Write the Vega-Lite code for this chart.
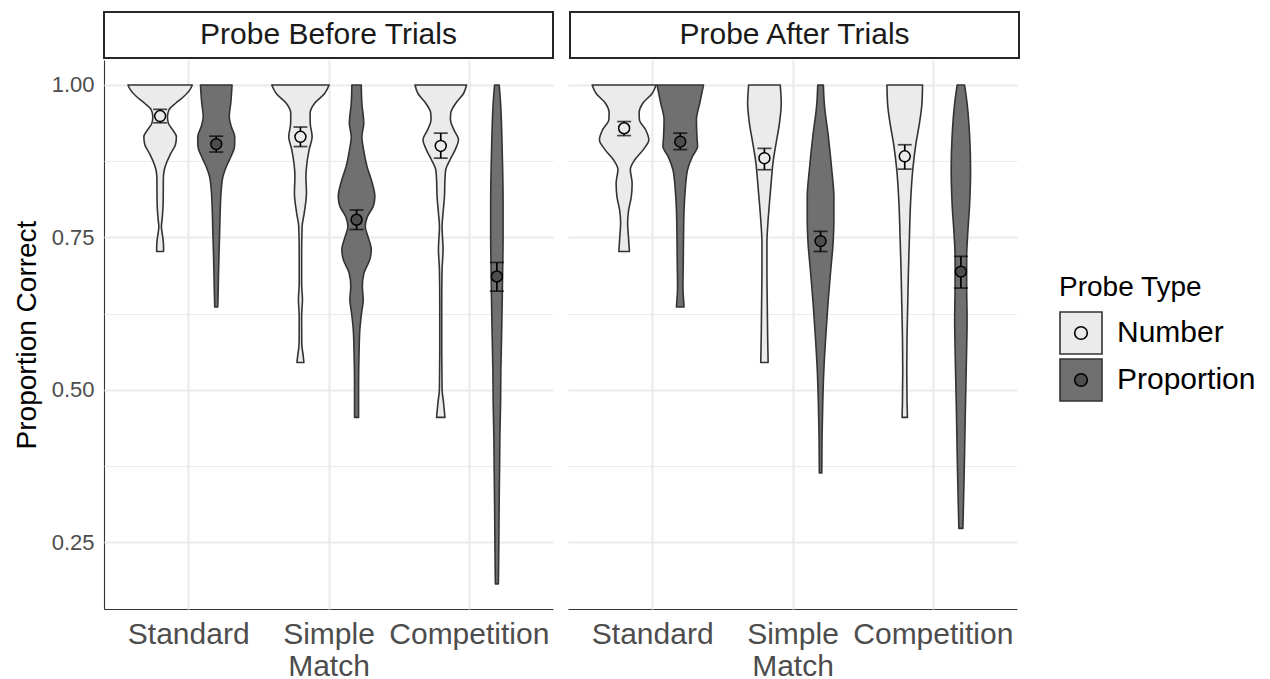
{
  "$schema": "https://vega.github.io/schema/vega-lite/v6.json",
  "padding": {"left": 13, "top": 11, "right": 5, "bottom": 0},
  "spacing": 1,
  "config": {
    "font": "Liberation Sans",
    "view": {"stroke": null}
  },
  "datasets": {
    "strips": [
      {"panel": "Probe Before Trials"},
      {"panel": "Probe After Trials"}
    ],
    "main": [
      {"panel":"Probe Before Trials","condition":"Standard","probe":"Number","value":1.0,"density":1.006},
      {"panel":"Probe Before Trials","condition":"Standard","probe":"Number","value":0.992,"density":0.928},
      {"panel":"Probe Before Trials","condition":"Standard","probe":"Number","value":0.981,"density":0.741},
      {"panel":"Probe Before Trials","condition":"Standard","probe":"Number","value":0.97,"density":0.484},
      {"panel":"Probe Before Trials","condition":"Standard","probe":"Number","value":0.959,"density":0.275},
      {"panel":"Probe Before Trials","condition":"Standard","probe":"Number","value":0.948,"density":0.228},
      {"panel":"Probe Before Trials","condition":"Standard","probe":"Number","value":0.937,"density":0.259},
      {"panel":"Probe Before Trials","condition":"Standard","probe":"Number","value":0.926,"density":0.397},
      {"panel":"Probe Before Trials","condition":"Standard","probe":"Number","value":0.915,"density":0.509},
      {"panel":"Probe Before Trials","condition":"Standard","probe":"Number","value":0.902,"density":0.478},
      {"panel":"Probe Before Trials","condition":"Standard","probe":"Number","value":0.888,"density":0.334},
      {"panel":"Probe Before Trials","condition":"Standard","probe":"Number","value":0.872,"density":0.197},
      {"panel":"Probe Before Trials","condition":"Standard","probe":"Number","value":0.861,"density":0.131},
      {"panel":"Probe Before Trials","condition":"Standard","probe":"Number","value":0.85,"density":0.103},
      {"panel":"Probe Before Trials","condition":"Standard","probe":"Number","value":0.806,"density":0.094},
      {"panel":"Probe Before Trials","condition":"Standard","probe":"Number","value":0.78,"density":0.063},
      {"panel":"Probe Before Trials","condition":"Standard","probe":"Number","value":0.768,"density":0.04},
      {"panel":"Probe Before Trials","condition":"Standard","probe":"Number","value":0.752,"density":0.078},
      {"panel":"Probe Before Trials","condition":"Standard","probe":"Number","value":0.74,"density":0.103},
      {"panel":"Probe Before Trials","condition":"Standard","probe":"Number","value":0.727,"density":0.109},

      {"panel":"Probe Before Trials","condition":"Standard","probe":"Proportion","value":1.0,"density":0.494},
      {"panel":"Probe Before Trials","condition":"Standard","probe":"Proportion","value":0.97,"density":0.453},
      {"panel":"Probe Before Trials","condition":"Standard","probe":"Proportion","value":0.948,"density":0.406},
      {"panel":"Probe Before Trials","condition":"Standard","probe":"Proportion","value":0.932,"density":0.469},
      {"panel":"Probe Before Trials","condition":"Standard","probe":"Proportion","value":0.915,"density":0.578},
      {"panel":"Probe Before Trials","condition":"Standard","probe":"Proportion","value":0.899,"density":0.572},
      {"panel":"Probe Before Trials","condition":"Standard","probe":"Proportion","value":0.883,"density":0.463},
      {"panel":"Probe Before Trials","condition":"Standard","probe":"Proportion","value":0.866,"density":0.313},
      {"panel":"Probe Before Trials","condition":"Standard","probe":"Proportion","value":0.85,"density":0.209},
      {"panel":"Probe Before Trials","condition":"Standard","probe":"Proportion","value":0.828,"density":0.156},
      {"panel":"Probe Before Trials","condition":"Standard","probe":"Proportion","value":0.795,"density":0.125},
      {"panel":"Probe Before Trials","condition":"Standard","probe":"Proportion","value":0.752,"density":0.103},
      {"panel":"Probe Before Trials","condition":"Standard","probe":"Proportion","value":0.719,"density":0.084},
      {"panel":"Probe Before Trials","condition":"Standard","probe":"Proportion","value":0.686,"density":0.069},
      {"panel":"Probe Before Trials","condition":"Standard","probe":"Proportion","value":0.653,"density":0.056},
      {"panel":"Probe Before Trials","condition":"Standard","probe":"Proportion","value":0.636,"density":0.047},

      {"panel":"Probe Before Trials","condition":"Simple Match","probe":"Number","value":1.0,"density":0.897},
      {"panel":"Probe Before Trials","condition":"Simple Match","probe":"Number","value":0.986,"density":0.756},
      {"panel":"Probe Before Trials","condition":"Simple Match","probe":"Number","value":0.97,"density":0.444},
      {"panel":"Probe Before Trials","condition":"Simple Match","probe":"Number","value":0.954,"density":0.303},
      {"panel":"Probe Before Trials","condition":"Simple Match","probe":"Number","value":0.937,"density":0.306},
      {"panel":"Probe Before Trials","condition":"Simple Match","probe":"Number","value":0.915,"density":0.366},
      {"panel":"Probe Before Trials","condition":"Simple Match","probe":"Number","value":0.894,"density":0.272},
      {"panel":"Probe Before Trials","condition":"Simple Match","probe":"Number","value":0.872,"density":0.203},
      {"panel":"Probe Before Trials","condition":"Simple Match","probe":"Number","value":0.85,"density":0.172},
      {"panel":"Probe Before Trials","condition":"Simple Match","probe":"Number","value":0.823,"density":0.188},
      {"panel":"Probe Before Trials","condition":"Simple Match","probe":"Number","value":0.79,"density":0.119},
      {"panel":"Probe Before Trials","condition":"Simple Match","probe":"Number","value":0.768,"density":0.053},
      {"panel":"Probe Before Trials","condition":"Simple Match","probe":"Number","value":0.724,"density":0.038},
      {"panel":"Probe Before Trials","condition":"Simple Match","probe":"Number","value":0.675,"density":0.038},
      {"panel":"Probe Before Trials","condition":"Simple Match","probe":"Number","value":0.648,"density":0.063},
      {"panel":"Probe Before Trials","condition":"Simple Match","probe":"Number","value":0.621,"density":0.038},
      {"panel":"Probe Before Trials","condition":"Simple Match","probe":"Number","value":0.577,"density":0.041},
      {"panel":"Probe Before Trials","condition":"Simple Match","probe":"Number","value":0.555,"density":0.088},
      {"panel":"Probe Before Trials","condition":"Simple Match","probe":"Number","value":0.545,"density":0.109},

      {"panel":"Probe Before Trials","condition":"Simple Match","probe":"Proportion","value":1.0,"density":0.147},
      {"panel":"Probe Before Trials","condition":"Simple Match","probe":"Proportion","value":0.97,"density":0.166},
      {"panel":"Probe Before Trials","condition":"Simple Match","probe":"Proportion","value":0.937,"density":0.225},
      {"panel":"Probe Before Trials","condition":"Simple Match","probe":"Proportion","value":0.915,"density":0.166},
      {"panel":"Probe Before Trials","condition":"Simple Match","probe":"Proportion","value":0.894,"density":0.219},
      {"panel":"Probe Before Trials","condition":"Simple Match","probe":"Proportion","value":0.866,"density":0.328},
      {"panel":"Probe Before Trials","condition":"Simple Match","probe":"Proportion","value":0.839,"density":0.491},
      {"panel":"Probe Before Trials","condition":"Simple Match","probe":"Proportion","value":0.817,"density":0.572},
      {"panel":"Probe Before Trials","condition":"Simple Match","probe":"Proportion","value":0.801,"density":0.522},
      {"panel":"Probe Before Trials","condition":"Simple Match","probe":"Proportion","value":0.784,"density":0.338},
      {"panel":"Probe Before Trials","condition":"Simple Match","probe":"Proportion","value":0.768,"density":0.272},
      {"panel":"Probe Before Trials","condition":"Simple Match","probe":"Proportion","value":0.752,"density":0.353},
      {"panel":"Probe Before Trials","condition":"Simple Match","probe":"Proportion","value":0.73,"density":0.459},
      {"panel":"Probe Before Trials","condition":"Simple Match","probe":"Proportion","value":0.714,"density":0.416},
      {"panel":"Probe Before Trials","condition":"Simple Match","probe":"Proportion","value":0.692,"density":0.234},
      {"panel":"Probe Before Trials","condition":"Simple Match","probe":"Proportion","value":0.67,"density":0.181},
      {"panel":"Probe Before Trials","condition":"Simple Match","probe":"Proportion","value":0.648,"density":0.209},
      {"panel":"Probe Before Trials","condition":"Simple Match","probe":"Proportion","value":0.626,"density":0.156},
      {"panel":"Probe Before Trials","condition":"Simple Match","probe":"Proportion","value":0.599,"density":0.103},
      {"panel":"Probe Before Trials","condition":"Simple Match","probe":"Proportion","value":0.561,"density":0.078},
      {"panel":"Probe Before Trials","condition":"Simple Match","probe":"Proportion","value":0.506,"density":0.063},
      {"panel":"Probe Before Trials","condition":"Simple Match","probe":"Proportion","value":0.455,"density":0.063},

      {"panel":"Probe Before Trials","condition":"Competition","probe":"Number","value":1.0,"density":0.806},
      {"panel":"Probe Before Trials","condition":"Competition","probe":"Number","value":0.986,"density":0.713},
      {"panel":"Probe Before Trials","condition":"Competition","probe":"Number","value":0.97,"density":0.469},
      {"panel":"Probe Before Trials","condition":"Competition","probe":"Number","value":0.954,"density":0.313},
      {"panel":"Probe Before Trials","condition":"Competition","probe":"Number","value":0.943,"density":0.303},
      {"panel":"Probe Before Trials","condition":"Competition","probe":"Number","value":0.926,"density":0.416},
      {"panel":"Probe Before Trials","condition":"Competition","probe":"Number","value":0.91,"density":0.556},
      {"panel":"Probe Before Trials","condition":"Competition","probe":"Number","value":0.894,"density":0.453},
      {"panel":"Probe Before Trials","condition":"Competition","probe":"Number","value":0.877,"density":0.288},
      {"panel":"Probe Before Trials","condition":"Competition","probe":"Number","value":0.861,"density":0.156},
      {"panel":"Probe Before Trials","condition":"Competition","probe":"Number","value":0.845,"density":0.131},
      {"panel":"Probe Before Trials","condition":"Competition","probe":"Number","value":0.817,"density":0.116},
      {"panel":"Probe Before Trials","condition":"Competition","probe":"Number","value":0.79,"density":0.072},
      {"panel":"Probe Before Trials","condition":"Competition","probe":"Number","value":0.768,"density":0.041},
      {"panel":"Probe Before Trials","condition":"Competition","probe":"Number","value":0.73,"density":0.072},
      {"panel":"Probe Before Trials","condition":"Competition","probe":"Number","value":0.697,"density":0.041},
      {"panel":"Probe Before Trials","condition":"Competition","probe":"Number","value":0.643,"density":0.031},
      {"panel":"Probe Before Trials","condition":"Competition","probe":"Number","value":0.561,"density":0.031},
      {"panel":"Probe Before Trials","condition":"Competition","probe":"Number","value":0.501,"density":0.041},
      {"panel":"Probe Before Trials","condition":"Competition","probe":"Number","value":0.479,"density":0.088},
      {"panel":"Probe Before Trials","condition":"Competition","probe":"Number","value":0.455,"density":0.131},

      {"panel":"Probe Before Trials","condition":"Competition","probe":"Proportion","value":1.0,"density":0.072},
      {"panel":"Probe Before Trials","condition":"Competition","probe":"Proportion","value":0.97,"density":0.116},
      {"panel":"Probe Before Trials","condition":"Competition","probe":"Proportion","value":0.915,"density":0.156},
      {"panel":"Probe Before Trials","condition":"Competition","probe":"Proportion","value":0.861,"density":0.181},
      {"panel":"Probe Before Trials","condition":"Competition","probe":"Proportion","value":0.806,"density":0.194},
      {"panel":"Probe Before Trials","condition":"Competition","probe":"Proportion","value":0.752,"density":0.194},
      {"panel":"Probe Before Trials","condition":"Competition","probe":"Proportion","value":0.697,"density":0.181},
      {"panel":"Probe Before Trials","condition":"Competition","probe":"Proportion","value":0.643,"density":0.166},
      {"panel":"Probe Before Trials","condition":"Competition","probe":"Proportion","value":0.588,"density":0.147},
      {"panel":"Probe Before Trials","condition":"Competition","probe":"Proportion","value":0.533,"density":0.125},
      {"panel":"Probe Before Trials","condition":"Competition","probe":"Proportion","value":0.479,"density":0.116},
      {"panel":"Probe Before Trials","condition":"Competition","probe":"Proportion","value":0.424,"density":0.094},
      {"panel":"Probe Before Trials","condition":"Competition","probe":"Proportion","value":0.37,"density":0.084},
      {"panel":"Probe Before Trials","condition":"Competition","probe":"Proportion","value":0.315,"density":0.072},
      {"panel":"Probe Before Trials","condition":"Competition","probe":"Proportion","value":0.26,"density":0.063},
      {"panel":"Probe Before Trials","condition":"Competition","probe":"Proportion","value":0.206,"density":0.053},
      {"panel":"Probe Before Trials","condition":"Competition","probe":"Proportion","value":0.182,"density":0.047},

      {"panel":"Probe After Trials","condition":"Standard","probe":"Number","value":1.0,"density":1.0},
      {"panel":"Probe After Trials","condition":"Standard","probe":"Number","value":0.986,"density":0.875},
      {"panel":"Probe After Trials","condition":"Standard","probe":"Number","value":0.97,"density":0.584},
      {"panel":"Probe After Trials","condition":"Standard","probe":"Number","value":0.954,"density":0.469},
      {"panel":"Probe After Trials","condition":"Standard","probe":"Number","value":0.943,"density":0.478},
      {"panel":"Probe After Trials","condition":"Standard","probe":"Number","value":0.926,"density":0.678},
      {"panel":"Probe After Trials","condition":"Standard","probe":"Number","value":0.91,"density":0.772},
      {"panel":"Probe After Trials","condition":"Standard","probe":"Number","value":0.894,"density":0.6},
      {"panel":"Probe After Trials","condition":"Standard","probe":"Number","value":0.877,"density":0.328},
      {"panel":"Probe After Trials","condition":"Standard","probe":"Number","value":0.861,"density":0.194},
      {"panel":"Probe After Trials","condition":"Standard","probe":"Number","value":0.839,"density":0.25},
      {"panel":"Probe After Trials","condition":"Standard","probe":"Number","value":0.817,"density":0.225},
      {"panel":"Probe After Trials","condition":"Standard","probe":"Number","value":0.795,"density":0.141},
      {"panel":"Probe After Trials","condition":"Standard","probe":"Number","value":0.774,"density":0.109},
      {"panel":"Probe After Trials","condition":"Standard","probe":"Number","value":0.752,"density":0.134},
      {"panel":"Probe After Trials","condition":"Standard","probe":"Number","value":0.727,"density":0.166},

      {"panel":"Probe After Trials","condition":"Standard","probe":"Proportion","value":1.0,"density":0.728},
      {"panel":"Probe After Trials","condition":"Standard","probe":"Proportion","value":0.97,"density":0.609},
      {"panel":"Probe After Trials","condition":"Standard","probe":"Proportion","value":0.943,"density":0.506},
      {"panel":"Probe After Trials","condition":"Standard","probe":"Proportion","value":0.915,"density":0.522},
      {"panel":"Probe After Trials","condition":"Standard","probe":"Proportion","value":0.899,"density":0.541},
      {"panel":"Probe After Trials","condition":"Standard","probe":"Proportion","value":0.883,"density":0.381},
      {"panel":"Probe After Trials","condition":"Standard","probe":"Proportion","value":0.861,"density":0.228},
      {"panel":"Probe After Trials","condition":"Standard","probe":"Proportion","value":0.828,"density":0.156},
      {"panel":"Probe After Trials","condition":"Standard","probe":"Proportion","value":0.795,"density":0.119},
      {"panel":"Probe After Trials","condition":"Standard","probe":"Proportion","value":0.752,"density":0.103},
      {"panel":"Probe After Trials","condition":"Standard","probe":"Proportion","value":0.708,"density":0.094},
      {"panel":"Probe After Trials","condition":"Standard","probe":"Proportion","value":0.67,"density":0.084},
      {"panel":"Probe After Trials","condition":"Standard","probe":"Proportion","value":0.636,"density":0.12},

      {"panel":"Probe After Trials","condition":"Simple Match","probe":"Number","value":1.0,"density":0.494},
      {"panel":"Probe After Trials","condition":"Simple Match","probe":"Number","value":0.97,"density":0.525},
      {"panel":"Probe After Trials","condition":"Simple Match","probe":"Number","value":0.937,"density":0.469},
      {"panel":"Probe After Trials","condition":"Simple Match","probe":"Number","value":0.905,"density":0.366},
      {"panel":"Probe After Trials","condition":"Simple Match","probe":"Number","value":0.872,"density":0.266},
      {"panel":"Probe After Trials","condition":"Simple Match","probe":"Number","value":0.839,"density":0.209},
      {"panel":"Probe After Trials","condition":"Simple Match","probe":"Number","value":0.806,"density":0.156},
      {"panel":"Probe After Trials","condition":"Simple Match","probe":"Number","value":0.774,"density":0.109},
      {"panel":"Probe After Trials","condition":"Simple Match","probe":"Number","value":0.741,"density":0.078},
      {"panel":"Probe After Trials","condition":"Simple Match","probe":"Number","value":0.697,"density":0.078},
      {"panel":"Probe After Trials","condition":"Simple Match","probe":"Number","value":0.643,"density":0.088},
      {"panel":"Probe After Trials","condition":"Simple Match","probe":"Number","value":0.588,"density":0.1},
      {"panel":"Probe After Trials","condition":"Simple Match","probe":"Number","value":0.545,"density":0.116},

      {"panel":"Probe After Trials","condition":"Simple Match","probe":"Proportion","value":1.0,"density":0.088},
      {"panel":"Probe After Trials","condition":"Simple Match","probe":"Proportion","value":0.97,"density":0.116},
      {"panel":"Probe After Trials","condition":"Simple Match","probe":"Proportion","value":0.915,"density":0.244},
      {"panel":"Probe After Trials","condition":"Simple Match","probe":"Proportion","value":0.861,"density":0.35},
      {"panel":"Probe After Trials","condition":"Simple Match","probe":"Proportion","value":0.817,"density":0.416},
      {"panel":"Probe After Trials","condition":"Simple Match","probe":"Proportion","value":0.779,"density":0.416},
      {"panel":"Probe After Trials","condition":"Simple Match","probe":"Proportion","value":0.741,"density":0.391},
      {"panel":"Probe After Trials","condition":"Simple Match","probe":"Proportion","value":0.697,"density":0.319},
      {"panel":"Probe After Trials","condition":"Simple Match","probe":"Proportion","value":0.643,"density":0.234},
      {"panel":"Probe After Trials","condition":"Simple Match","probe":"Proportion","value":0.588,"density":0.163},
      {"panel":"Probe After Trials","condition":"Simple Match","probe":"Proportion","value":0.533,"density":0.103},
      {"panel":"Probe After Trials","condition":"Simple Match","probe":"Proportion","value":0.479,"density":0.069},
      {"panel":"Probe After Trials","condition":"Simple Match","probe":"Proportion","value":0.424,"density":0.047},
      {"panel":"Probe After Trials","condition":"Simple Match","probe":"Proportion","value":0.364,"density":0.038},

      {"panel":"Probe After Trials","condition":"Competition","probe":"Number","value":1.0,"density":0.556},
      {"panel":"Probe After Trials","condition":"Competition","probe":"Number","value":0.97,"density":0.538},
      {"panel":"Probe After Trials","condition":"Competition","probe":"Number","value":0.937,"density":0.459},
      {"panel":"Probe After Trials","condition":"Competition","probe":"Number","value":0.905,"density":0.353},
      {"panel":"Probe After Trials","condition":"Competition","probe":"Number","value":0.861,"density":0.25},
      {"panel":"Probe After Trials","condition":"Competition","probe":"Number","value":0.806,"density":0.181},
      {"panel":"Probe After Trials","condition":"Competition","probe":"Number","value":0.752,"density":0.147},
      {"panel":"Probe After Trials","condition":"Competition","probe":"Number","value":0.697,"density":0.116},
      {"panel":"Probe After Trials","condition":"Competition","probe":"Number","value":0.643,"density":0.094},
      {"panel":"Probe After Trials","condition":"Competition","probe":"Number","value":0.588,"density":0.072},
      {"panel":"Probe After Trials","condition":"Competition","probe":"Number","value":0.533,"density":0.063},
      {"panel":"Probe After Trials","condition":"Competition","probe":"Number","value":0.479,"density":0.072},
      {"panel":"Probe After Trials","condition":"Competition","probe":"Number","value":0.455,"density":0.084},

      {"panel":"Probe After Trials","condition":"Competition","probe":"Proportion","value":1.0,"density":0.116},
      {"panel":"Probe After Trials","condition":"Competition","probe":"Proportion","value":0.97,"density":0.194},
      {"panel":"Probe After Trials","condition":"Competition","probe":"Proportion","value":0.915,"density":0.275},
      {"panel":"Probe After Trials","condition":"Competition","probe":"Proportion","value":0.861,"density":0.303},
      {"panel":"Probe After Trials","condition":"Competition","probe":"Proportion","value":0.806,"density":0.275},
      {"panel":"Probe After Trials","condition":"Competition","probe":"Proportion","value":0.752,"density":0.209},
      {"panel":"Probe After Trials","condition":"Competition","probe":"Proportion","value":0.719,"density":0.181},
      {"panel":"Probe After Trials","condition":"Competition","probe":"Proportion","value":0.67,"density":0.181},
      {"panel":"Probe After Trials","condition":"Competition","probe":"Proportion","value":0.615,"density":0.194},
      {"panel":"Probe After Trials","condition":"Competition","probe":"Proportion","value":0.561,"density":0.178},
      {"panel":"Probe After Trials","condition":"Competition","probe":"Proportion","value":0.506,"density":0.156},
      {"panel":"Probe After Trials","condition":"Competition","probe":"Proportion","value":0.451,"density":0.134},
      {"panel":"Probe After Trials","condition":"Competition","probe":"Proportion","value":0.397,"density":0.116},
      {"panel":"Probe After Trials","condition":"Competition","probe":"Proportion","value":0.342,"density":0.094},
      {"panel":"Probe After Trials","condition":"Competition","probe":"Proportion","value":0.293,"density":0.072},
      {"panel":"Probe After Trials","condition":"Competition","probe":"Proportion","value":0.273,"density":0.063},

      {"panel":"Probe Before Trials","condition":"Standard","probe":"Number","mean":0.949,"lo":0.938,"hi":0.96},
      {"panel":"Probe Before Trials","condition":"Standard","probe":"Proportion","mean":0.903,"lo":0.89,"hi":0.916},
      {"panel":"Probe Before Trials","condition":"Simple Match","probe":"Number","mean":0.915,"lo":0.899,"hi":0.931},
      {"panel":"Probe Before Trials","condition":"Simple Match","probe":"Proportion","mean":0.779,"lo":0.763,"hi":0.795},
      {"panel":"Probe Before Trials","condition":"Competition","probe":"Number","mean":0.9,"lo":0.88,"hi":0.921},
      {"panel":"Probe Before Trials","condition":"Competition","probe":"Proportion","mean":0.686,"lo":0.662,"hi":0.709},
      {"panel":"Probe After Trials","condition":"Standard","probe":"Number","mean":0.929,"lo":0.917,"hi":0.94},
      {"panel":"Probe After Trials","condition":"Standard","probe":"Proportion","mean":0.907,"lo":0.894,"hi":0.921},
      {"panel":"Probe After Trials","condition":"Simple Match","probe":"Number","mean":0.88,"lo":0.861,"hi":0.896},
      {"panel":"Probe After Trials","condition":"Simple Match","probe":"Proportion","mean":0.744,"lo":0.727,"hi":0.76},
      {"panel":"Probe After Trials","condition":"Competition","probe":"Number","mean":0.883,"lo":0.862,"hi":0.902},
      {"panel":"Probe After Trials","condition":"Competition","probe":"Proportion","mean":0.694,"lo":0.667,"hi":0.719}
    ]
  },
  "vconcat": [
    {
      "data": {"name": "strips"},
      "facet": {
        "column": {"field": "panel", "type": "nominal", "sort": ["Probe Before Trials", "Probe After Trials"], "header": null}
      },
      "spacing": 15,
      "spec": {
        "width": 449,
        "height": 46,
        "view": {"stroke": "#262626", "strokeWidth": 2, "fill": "white"},
        "mark": {"type": "text", "fontSize": 30, "color": "#1a1a1a", "align": "center", "baseline": "middle"},
        "encoding": {"text": {"field": "panel", "type": "nominal"}}
      }
    },
    {
      "data": {"name": "main"},
      "transform": [
        {"calculate": "indexof(['Standard','Simple Match','Competition'], datum.condition) + 1 + (datum.probe === 'Number' ? -0.2 : 0.2)", "as": "ctr"}
      ],
      "facet": {
        "column": {"field": "panel", "type": "nominal", "sort": ["Probe Before Trials", "Probe After Trials"], "header": null}
      },
      "spacing": 15,
      "spec": {
        "width": 449,
        "height": 549,
        "encoding": {
          "y": {
            "type": "quantitative",
            "scale": {"domain": [0.1409, 1.0409], "nice": false, "zero": false},
            "axis": {
              "title": "Proportion Correct",
              "values": [0.25, 0.375, 0.5, 0.625, 0.75, 0.875, 1.0],
              "format": ".2f",
              "labelExpr": "(datum.value * 8) % 2 > 0.5 ? '' : datum.label",
              "grid": true,
              "gridColor": "#ebebeb",
              "gridWidth": {"condition": {"test": "(datum.value * 8) % 2 > 0.5", "value": 1.1}, "value": 2.2},
              "ticks": false,
              "domain": true,
              "domainColor": "#333333",
              "domainWidth": 1.1,
              "labelFontSize": 22,
              "labelColor": "#4d4d4d",
              "labelPadding": 10,
              "titleFontSize": 28,
              "titleFontWeight": "normal",
              "titleColor": "black",
              "titlePadding": 10
            }
          },
          "x": {
            "type": "quantitative",
            "scale": {"domain": [0.4, 3.6], "nice": false, "zero": false},
            "axis": {
              "title": null,
              "values": [1, 2, 3],
              "labelExpr": "datum.value == 1 ? 'Standard' : datum.value == 2 ? ['Simple', 'Match'] : 'Competition'",
              "grid": true,
              "gridColor": "#ebebeb",
              "gridWidth": 2.2,
              "ticks": false,
              "domain": true,
              "domainColor": "#333333",
              "domainWidth": 1.1,
              "labelFontSize": 30,
              "labelColor": "#4d4d4d",
              "labelPadding": 10,
              "labelLineHeight": 32,
              "labelOverlap": false,
              "labelFlush": false,
              "labelBound": false
            }
          }
        },
        "layer": [
          {
            "transform": [
              {"filter": "isValid(datum.density)"},
              {"calculate": "datum.ctr - datum.density * 0.228", "as": "xl"},
              {"calculate": "datum.ctr + datum.density * 0.228", "as": "xr"}
            ],
            "mark": {"type": "area", "orient": "horizontal", "interpolate": "monotone", "stroke": "#333333", "strokeWidth": 1.6, "strokeJoin": "round"},
            "encoding": {
              "y": {"field": "value", "type": "quantitative"},
              "x": {"field": "xl", "type": "quantitative"},
              "x2": {"field": "xr"},
              "detail": {"field": "condition", "type": "nominal"},
              "fill": {
                "field": "probe",
                "type": "nominal",
                "scale": {"domain": ["Number", "Proportion"], "range": ["#ebebeb", "#707070"]},
                "legend": {
                  "title": "Probe Type",
                  "orient": "none",
                  "legendX": 955,
                  "legendY": 262,
                  "symbolType": "square",
                  "symbolSize": 1764,
                  "symbolStrokeColor": "#333333",
                  "symbolStrokeWidth": 1.6,
                  "symbolOpacity": 1,
                  "titleFontSize": 28,
                  "titleFontWeight": "normal",
                  "titleColor": "black",
                  "titlePadding": 9,
                  "labelFontSize": 30,
                  "labelColor": "black",
                  "labelOffset": 14,
                  "rowPadding": -9
                }
              }
            }
          },
          {
            "transform": [{"filter": "isValid(datum.mean)"}],
            "mark": {"type": "rule", "color": "black", "strokeWidth": 1.7},
            "encoding": {
              "x": {"field": "ctr", "type": "quantitative"},
              "y": {"field": "lo", "type": "quantitative"},
              "y2": {"field": "hi"}
            }
          },
          {
            "transform": [
              {"filter": "isValid(datum.mean)"},
              {"fold": ["lo", "hi"], "as": ["bound", "bval"]}
            ],
            "mark": {"type": "tick", "orient": "horizontal", "color": "black", "size": 14, "thickness": 1.7},
            "encoding": {
              "x": {"field": "ctr", "type": "quantitative"},
              "y": {"field": "bval", "type": "quantitative"}
            }
          },
          {
            "transform": [{"filter": "isValid(datum.mean)"}],
            "mark": {"type": "point", "filled": true, "shape": "circle", "size": 120, "stroke": "black", "strokeWidth": 1.5, "opacity": 1},
            "encoding": {
              "x": {"field": "ctr", "type": "quantitative"},
              "y": {"field": "mean", "type": "quantitative"},
              "color": {
                "field": "probe",
                "type": "nominal",
                "scale": {"range": ["#ebebeb", "#4d4d4d"]},
                "legend": {
                  "title": "Probe Type",
                  "titleOpacity": 0,
                  "orient": "none",
                  "legendX": 955,
                  "legendY": 262,
                  "zindex": 1,
                  "symbolType": "M-1,-1M1,1M0.3,0A0.3,0.3,0,1,1,-0.3,0A0.3,0.3,0,1,1,0.3,0Z",
                  "symbolSize": 1764,
                  "symbolStrokeColor": "black",
                  "symbolStrokeWidth": 1.6,
                  "symbolOpacity": 1,
                  "titleFontSize": 28,
                  "titleFontWeight": "normal",
                  "titlePadding": 9,
                  "labelFontSize": 30,
                  "labelOpacity": 0,
                  "labelOffset": 14,
                  "rowPadding": -9
                }
              }
            }
          }
        ]
      }
    }
  ]
}
